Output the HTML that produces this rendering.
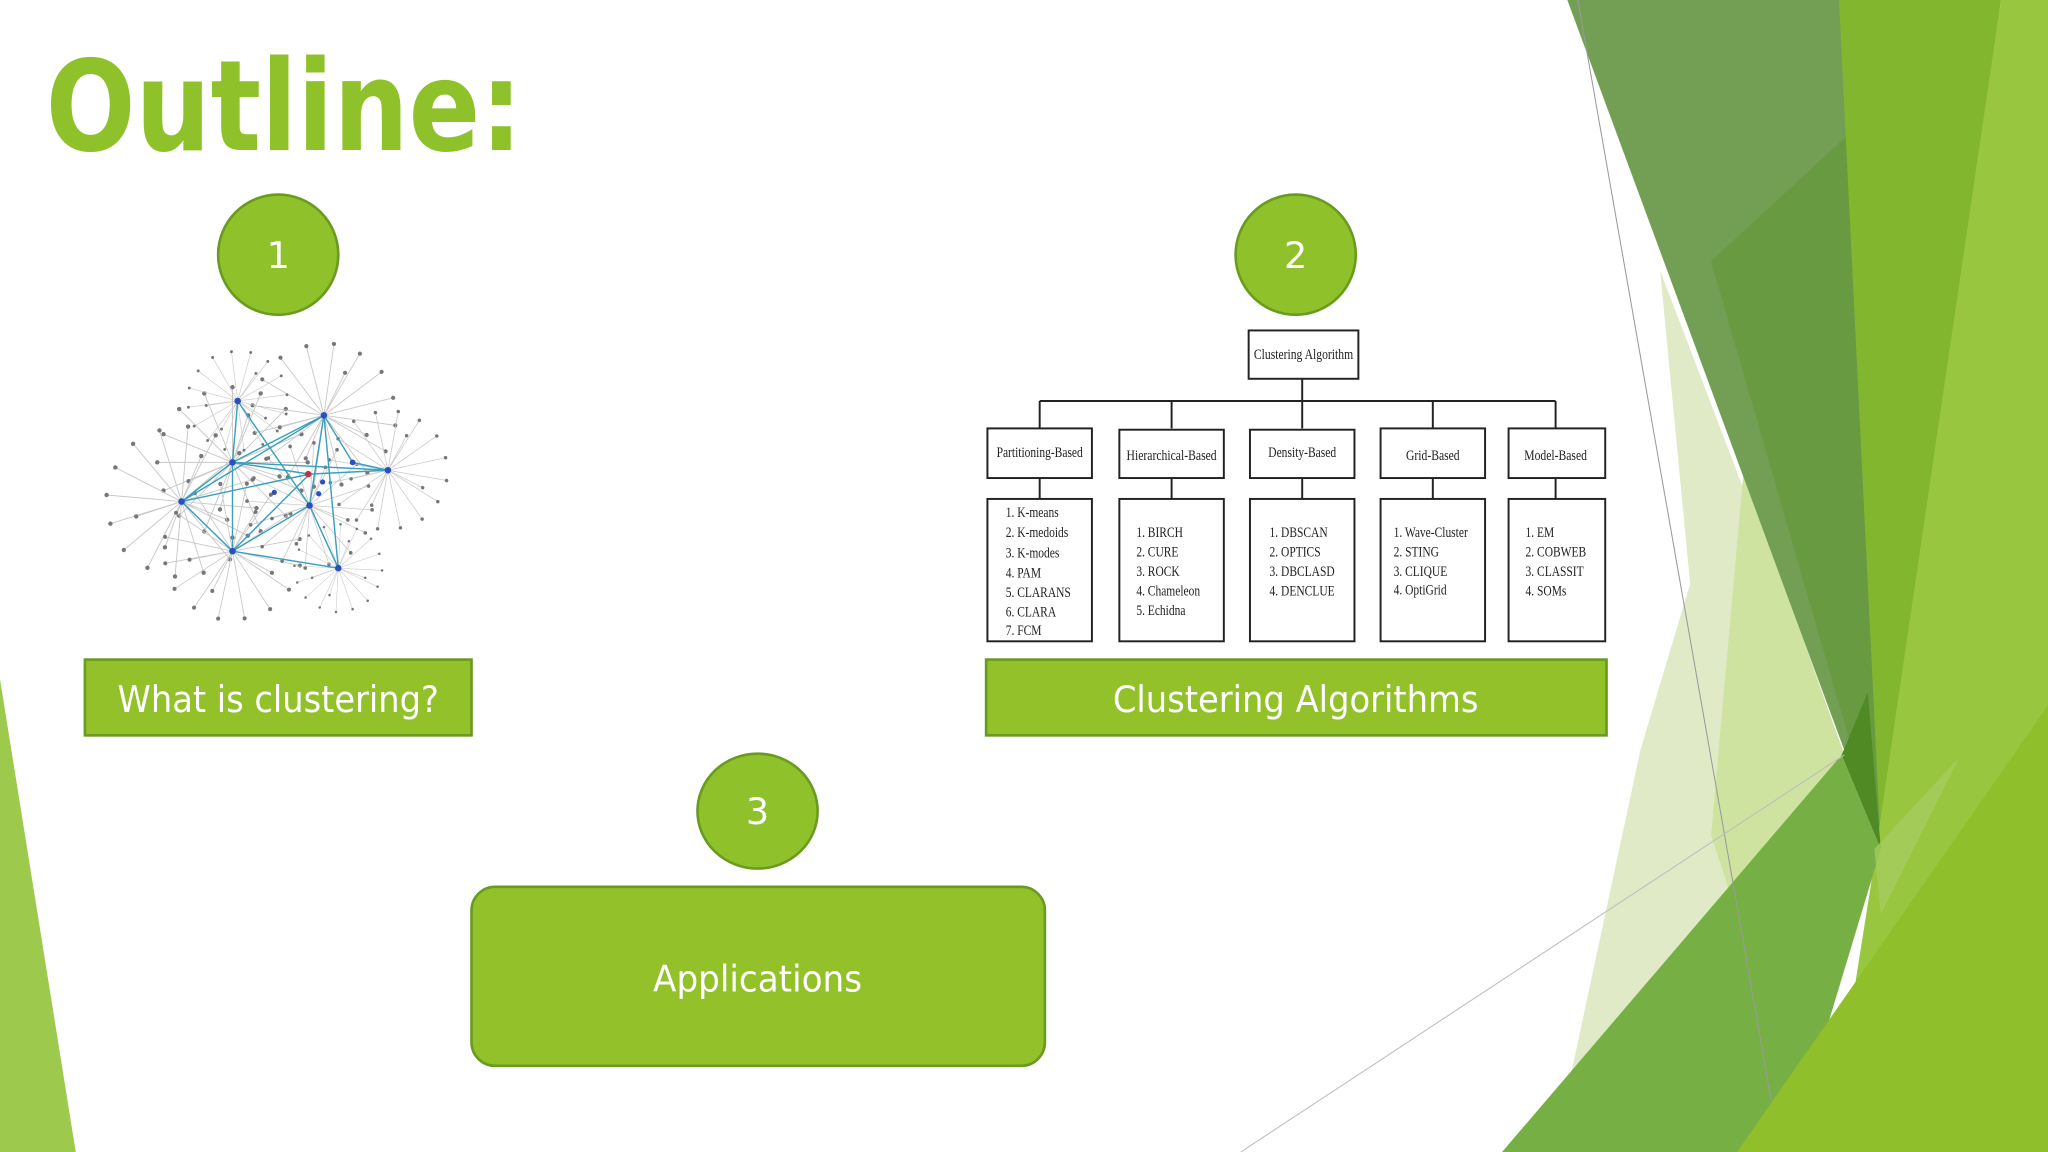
<!DOCTYPE html>
<html><head><meta charset="utf-8"><style>html,body{margin:0;padding:0;background:#fff}svg{display:block}</style></head>
<body>
<svg width="2048" height="1152" viewBox="0 0 1568 882" xmlns="http://www.w3.org/2000/svg">
<defs>
<g id="star">
<g stroke="#c8c8c8" stroke-width="0.6">
<line x1="0" y1="0" x2="48" y2="0"/><line x1="0" y1="0" x2="44" y2="18"/><line x1="0" y1="0" x2="34" y2="34"/><line x1="0" y1="0" x2="18" y2="44"/>
<line x1="0" y1="0" x2="0" y2="48"/><line x1="0" y1="0" x2="-18" y2="44"/><line x1="0" y1="0" x2="-34" y2="34"/><line x1="0" y1="0" x2="-44" y2="18"/>
<line x1="0" y1="0" x2="-48" y2="0"/><line x1="0" y1="0" x2="-44" y2="-18"/><line x1="0" y1="0" x2="-34" y2="-34"/><line x1="0" y1="0" x2="-18" y2="-44"/>
<line x1="0" y1="0" x2="0" y2="-48"/><line x1="0" y1="0" x2="18" y2="-44"/><line x1="0" y1="0" x2="34" y2="-34"/><line x1="0" y1="0" x2="44" y2="-18"/>
<line x1="0" y1="0" x2="30" y2="9"/><line x1="0" y1="0" x2="-28" y2="12"/><line x1="0" y1="0" x2="10" y2="-30"/><line x1="0" y1="0" x2="-8" y2="30"/>
</g>
<g fill="#777">
<circle cx="48" cy="0" r="1.4"/><circle cx="44" cy="18" r="1.4"/><circle cx="34" cy="34" r="1.4"/><circle cx="18" cy="44" r="1.4"/>
<circle cx="0" cy="48" r="1.4"/><circle cx="-18" cy="44" r="1.4"/><circle cx="-34" cy="34" r="1.4"/><circle cx="-44" cy="18" r="1.4"/>
<circle cx="-48" cy="0" r="1.4"/><circle cx="-44" cy="-18" r="1.4"/><circle cx="-34" cy="-34" r="1.4"/><circle cx="-18" cy="-44" r="1.4"/>
<circle cx="0" cy="-48" r="1.4"/><circle cx="18" cy="-44" r="1.4"/><circle cx="34" cy="-34" r="1.4"/><circle cx="44" cy="-18" r="1.4"/>
<circle cx="30" cy="9" r="1.4"/><circle cx="-28" cy="12" r="1.4"/><circle cx="10" cy="-30" r="1.4"/><circle cx="-8" cy="30" r="1.4"/>
</g>
</g>
</defs>
<rect width="1568" height="882" fill="#fff"/>

<!-- right decoration -->
<polygon points="1271,207 1440,650 1300,882 1190,882 1256,574 1294,447" fill="#e0eac6"/>
<polygon points="1335,360 1412,578 1330,700 1310,640" fill="#cfe3a0"/>
<polygon points="1200,0 1410,0 1440,650" fill="#739f54"/>
<polygon points="1310,200 1440,80 1440,650" fill="#689a42"/>
<polygon points="1408,0 1532,0 1440,650" fill="#82b62e"/>
<polygon points="1532,0 1568,0 1568,882 1400,882 1432,680" fill="#98c63f"/>
<polygon points="1150,882 1410,578 1440,650 1370,882" fill="#76b044"/>
<polygon points="1410,578 1430,530 1440,650" fill="#4f8a25"/>
<polygon points="1330,882 1568,540 1568,882" fill="#8fc02b"/>
<polygon points="1435,650 1500,580 1440,700" fill="#a6cf62" opacity="0.7"/>
<line x1="1208" y1="0" x2="1356" y2="842" stroke="#9a9a9a" stroke-width="0.8"/>
<line x1="950" y1="882" x2="1412" y2="578" stroke="#bdbdbd" stroke-width="0.8"/>

<!-- left sliver -->
<polygon points="0,520 58,882 0,882" fill="#9dca4c"/>

<!-- title -->
<text x="35" y="115" font-family="DejaVu Sans, sans-serif" font-weight="bold" font-size="96" fill="#8fc12a" textLength="365" lengthAdjust="spacingAndGlyphs">Outline:</text>

<!-- circles -->
<g fill="#8fc12a" stroke="#6a9a1e" stroke-width="2">
<circle cx="213" cy="195" r="46"/>
<circle cx="992" cy="195" r="46"/>
<ellipse cx="580" cy="621" rx="46" ry="44"/>
</g>
<g fill="#fff" font-family="DejaVu Sans, sans-serif" font-size="28" text-anchor="middle">
<text x="213" y="205">1</text><text x="992" y="205">2</text><text x="580" y="631">3</text>
</g>

<!-- network -->
<g>
<use href="#star" transform="translate(178,354) scale(1.2)"/>
<use href="#star" transform="translate(248,318) scale(1.15) rotate(8)"/>
<use href="#star" transform="translate(139,384) scale(1.2) rotate(5)"/>
<use href="#star" transform="translate(178,422) scale(1.1) rotate(12)"/>
<use href="#star" transform="translate(237,387) scale(1) rotate(4)"/>
<use href="#star" transform="translate(297,360) scale(0.95) rotate(10)"/>
<use href="#star" transform="translate(259,435) scale(0.7) rotate(3)"/>
<use href="#star" transform="translate(182,307) scale(0.8) rotate(15)"/>
<g stroke="#3aa0bc" stroke-width="1.1" fill="none">
<line x1="178" y1="354" x2="248" y2="318"/><line x1="178" y1="354" x2="139" y2="384"/><line x1="178" y1="354" x2="178" y2="422"/>
<line x1="178" y1="354" x2="237" y2="363"/><line x1="178" y1="354" x2="297" y2="360"/><line x1="182" y1="307" x2="178" y2="354"/>
<line x1="182" y1="307" x2="237" y2="387"/><line x1="248" y1="318" x2="237" y2="387"/><line x1="248" y1="318" x2="139" y2="384"/>
<line x1="248" y1="318" x2="270" y2="354"/><line x1="270" y1="354" x2="297" y2="360"/><line x1="139" y1="384" x2="237" y2="363"/>
<line x1="139" y1="384" x2="178" y2="422"/><line x1="178" y1="422" x2="237" y2="387"/><line x1="178" y1="422" x2="259" y2="435"/>
<line x1="237" y1="387" x2="259" y2="435"/><line x1="178" y1="422" x2="237" y2="363"/><line x1="237" y1="363" x2="297" y2="360"/>
<line x1="248" y1="318" x2="259" y2="435"/>
</g>
<g fill="#2a4fbf">
<circle cx="178" cy="354" r="2.5"/><circle cx="248" cy="318" r="2.5"/><circle cx="139" cy="384" r="2.5"/><circle cx="178" cy="422" r="2.5"/>
<circle cx="237" cy="387" r="2.5"/><circle cx="297" cy="360" r="2.5"/><circle cx="259" cy="435" r="2.5"/><circle cx="182" cy="307" r="2.5"/>
<circle cx="270" cy="354" r="2.2"/><circle cx="210" cy="377" r="2"/><circle cx="247" cy="369" r="2"/><circle cx="244" cy="378" r="2"/>
</g>
<circle cx="236" cy="363" r="2.5" fill="#c0304a"/>
</g>

<!-- boxes -->
<g fill="#92c12a" stroke="#6a9a1e" stroke-width="2">
<rect x="65" y="505" width="296" height="58"/>
<rect x="755" y="505" width="475" height="58"/>
<rect x="361" y="679" width="439" height="137" rx="18"/>
</g>
<g fill="#fff" font-family="DejaVu Sans, sans-serif" font-size="28" text-anchor="middle">
<text x="213" y="545" textLength="246" lengthAdjust="spacingAndGlyphs">What is clustering?</text>
<text x="992" y="545" textLength="280" lengthAdjust="spacingAndGlyphs">Clustering Algorithms</text>
<text x="580" y="759" textLength="160" lengthAdjust="spacingAndGlyphs">Applications</text>
</g>

<!-- tree -->
<g stroke="#222" stroke-width="1.5" fill="#fff">
<rect x="956" y="253" width="84" height="37"/>
<polyline points="997,290 997,328" fill="none"/>
<line x1="796" y1="307" x2="1191" y2="307"/>
<line x1="796" y1="307" x2="796" y2="328"/><line x1="897" y1="307" x2="897" y2="328"/>
<line x1="1097" y1="307" x2="1097" y2="328"/><line x1="1191" y1="307" x2="1191" y2="328"/>
<rect x="756" y="328" width="80" height="38"/><rect x="857" y="329" width="80" height="37"/><rect x="957" y="329" width="80" height="37"/>
<rect x="1057" y="328" width="80" height="38"/><rect x="1155" y="328" width="74" height="38"/>
<line x1="796" y1="366" x2="796" y2="382"/><line x1="897" y1="366" x2="897" y2="382"/><line x1="997" y1="366" x2="997" y2="382"/>
<line x1="1097" y1="366" x2="1097" y2="382"/><line x1="1191" y1="366" x2="1191" y2="382"/>
<rect x="756" y="382" width="80" height="109"/><rect x="857" y="382" width="80" height="109"/><rect x="957" y="382" width="80" height="109"/>
<rect x="1057" y="382" width="80" height="109"/><rect x="1155" y="382" width="74" height="109"/>
</g>
<g font-family="Liberation Serif, serif" font-size="11" fill="#222">
<text x="998" y="275" text-anchor="middle" textLength="76" lengthAdjust="spacingAndGlyphs">Clustering Algorithm</text>
<text x="796" y="350" text-anchor="middle" textLength="66" lengthAdjust="spacingAndGlyphs">Partitioning-Based</text>
<text x="897" y="352" text-anchor="middle" textLength="69" lengthAdjust="spacingAndGlyphs">Hierarchical-Based</text>
<text x="997" y="350" text-anchor="middle" textLength="52" lengthAdjust="spacingAndGlyphs">Density-Based</text>
<text x="1097" y="352" text-anchor="middle" textLength="41" lengthAdjust="spacingAndGlyphs">Grid-Based</text>
<text x="1191" y="352" text-anchor="middle" textLength="48" lengthAdjust="spacingAndGlyphs">Model-Based</text>
<g transform="translate(770,0) scale(0.8,1)">
<text x="0" y="396">1. K-means</text><text x="0" y="411">2. K-medoids</text><text x="0" y="427">3. K-modes</text>
<text x="0" y="442">4. PAM</text><text x="0" y="457">5. CLARANS</text><text x="0" y="472">6. CLARA</text><text x="0" y="486">7. FCM</text>
</g>
<g transform="translate(870,0) scale(0.8,1)">
<text x="0" y="411">1. BIRCH</text><text x="0" y="426">2. CURE</text><text x="0" y="441">3. ROCK</text><text x="0" y="456">4. Chameleon</text><text x="0" y="471">5. Echidna</text>
</g>
<g transform="translate(972,0) scale(0.8,1)">
<text x="0" y="411">1. DBSCAN</text><text x="0" y="426">2. OPTICS</text><text x="0" y="441">3. DBCLASD</text><text x="0" y="456">4. DENCLUE</text>
</g>
<g transform="translate(1067,0) scale(0.8,1)">
<text x="0" y="411">1. Wave-Cluster</text><text x="0" y="426">2. STING</text><text x="0" y="441">3. CLIQUE</text><text x="0" y="455">4. OptiGrid</text>
</g>
<g transform="translate(1168,0) scale(0.8,1)">
<text x="0" y="411">1. EM</text><text x="0" y="426">2. COBWEB</text><text x="0" y="441">3. CLASSIT</text><text x="0" y="456">4. SOMs</text>
</g>
</g>
</svg>
</body></html>
